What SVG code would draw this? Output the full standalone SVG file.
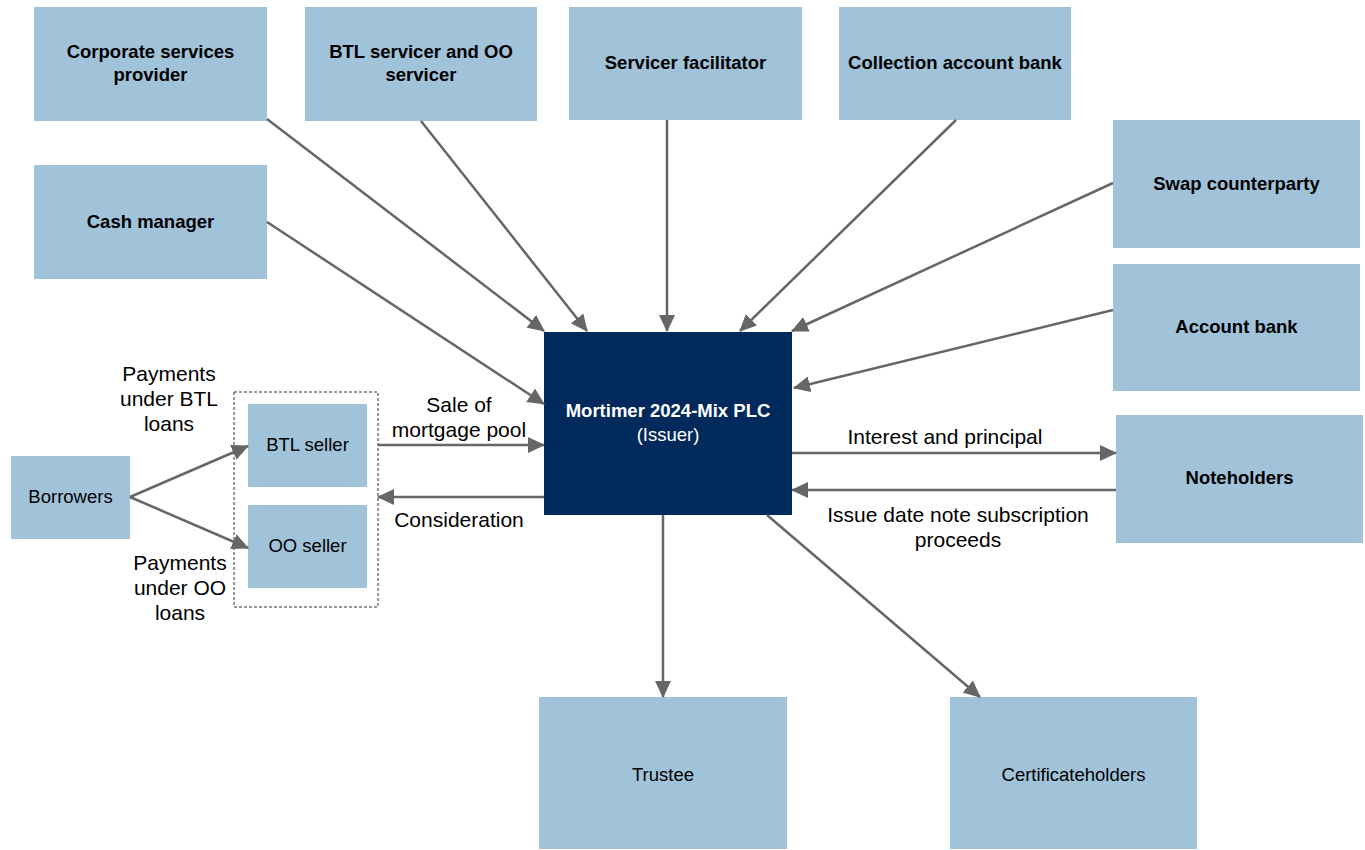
<svg xmlns="http://www.w3.org/2000/svg" width="1365" height="850" viewBox="0 0 1365 850">
<style>
.box{fill:#a1c3da}
.lbl{font-family:"Liberation Sans",Arial,sans-serif;font-size:18.5px;font-weight:bold;fill:#000;text-anchor:middle}
.nlbl{font-family:"Liberation Sans",Arial,sans-serif;font-size:18.5px;fill:#000;text-anchor:middle}
.elbl{font-family:"Liberation Sans",Arial,sans-serif;font-size:21px;fill:#000;text-anchor:middle}
.c{stroke:#666;stroke-width:2.5;fill:none;marker-end:url(#ah)}
</style>
<defs>
<marker id="ah" markerUnits="userSpaceOnUse" markerWidth="18" markerHeight="16" refX="16" refY="8" orient="auto">
<path d="M0,0 L17,8 L0,16 Z" fill="#666"/>
</marker>
</defs>
<rect width="1365" height="850" fill="#fff"/>
<g id="corporate"><rect class="box" x="34" y="7" width="233" height="114"/><text class="lbl" x="150.5" y="58">Corporate services</text><text class="lbl" x="150.5" y="81">provider</text></g>
<g id="btlservicer"><rect class="box" x="305" y="7" width="232" height="114"/><text class="lbl" x="421" y="58">BTL servicer and OO</text><text class="lbl" x="421" y="81">servicer</text></g>
<g id="facilitator"><rect class="box" x="569" y="7" width="233" height="113"/><text class="lbl" x="685.5" y="69">Servicer facilitator</text></g>
<g id="collection"><rect class="box" x="839" y="7" width="232" height="113"/><text class="lbl" x="955" y="69">Collection account bank</text></g>
<g id="cashmanager"><rect class="box" x="34" y="165" width="233" height="114"/><text class="lbl" x="150.5" y="228">Cash manager</text></g>
<g id="swap"><rect class="box" x="1113" y="120" width="247" height="128"/><text class="lbl" x="1236.5" y="190">Swap counterparty</text></g>
<g id="accountbank"><rect class="box" x="1113" y="264" width="247" height="127"/><text class="lbl" x="1236.5" y="333">Account bank</text></g>
<g id="issuer"><rect x="544" y="332" width="248" height="183" fill="#002a5c"/><text class="lbl" x="668" y="417" style="fill:#fff">Mortimer 2024-Mix PLC</text><text class="nlbl" x="668" y="441" style="fill:#fff">(Issuer)</text></g>
<g id="noteholders"><rect class="box" x="1116" y="415" width="247" height="128"/><text class="lbl" x="1239.5" y="484">Noteholders</text></g>
<g id="trustee"><rect class="box" x="539" y="697" width="248" height="152"/><text class="nlbl" x="663" y="781">Trustee</text></g>
<g id="certificateholders"><rect class="box" x="950" y="697" width="247" height="152"/><text class="nlbl" x="1073.5" y="781">Certificateholders</text></g>
<g id="borrowers"><rect class="box" x="11" y="456" width="119" height="83"/><text class="nlbl" x="70.5" y="503">Borrowers</text></g>
<g id="sellers"><rect x="234" y="392" width="144" height="215" fill="none" stroke="#333" stroke-width="1" stroke-dasharray="3,2"/></g>
<g id="btlseller"><rect class="box" x="248" y="404" width="119" height="83"/><text class="nlbl" x="307.5" y="451">BTL seller</text></g>
<g id="ooseller"><rect class="box" x="248" y="505" width="119" height="83"/><text class="nlbl" x="307.5" y="552">OO seller</text></g>
<g id="connectors">
<line class="c" x1="267" y1="119" x2="544" y2="331"/>
<line class="c" x1="421" y1="121" x2="587" y2="331"/>
<line class="c" x1="667" y1="120" x2="667" y2="331"/>
<line class="c" x1="956" y1="120" x2="740" y2="331"/>
<line class="c" x1="1113" y1="183" x2="792" y2="331"/>
<line class="c" x1="267" y1="222" x2="544" y2="404"/>
<line class="c" x1="1113" y1="310" x2="794" y2="388"/>
<line class="c" x1="378" y1="445" x2="544" y2="445"/>
<line class="c" x1="544" y1="497" x2="378" y2="497"/>
<line class="c" x1="792" y1="453" x2="1116" y2="453"/>
<line class="c" x1="1116" y1="490" x2="792" y2="490"/>
<line class="c" x1="663" y1="515" x2="663" y2="697"/>
<line class="c" x1="767" y1="515" x2="980" y2="697"/>
<line class="c" x1="130" y1="497" x2="248" y2="446"/>
<line class="c" x1="130" y1="497" x2="248" y2="548"/>
</g>
<g id="labels">
<text class="elbl" x="169" y="381">Payments</text>
<text class="elbl" x="169" y="406">under BTL</text>
<text class="elbl" x="169" y="431">loans</text>
<text class="elbl" x="180" y="570">Payments</text>
<text class="elbl" x="180" y="595">under OO</text>
<text class="elbl" x="180" y="620">loans</text>
<text class="elbl" x="459" y="412">Sale of</text>
<text class="elbl" x="459" y="437">mortgage pool</text>
<text class="elbl" x="459" y="527">Consideration</text>
<text class="elbl" x="945" y="444">Interest and principal</text>
<text class="elbl" x="958" y="522">Issue date note subscription</text>
<text class="elbl" x="958" y="547">proceeds</text>
</g>
</svg>
